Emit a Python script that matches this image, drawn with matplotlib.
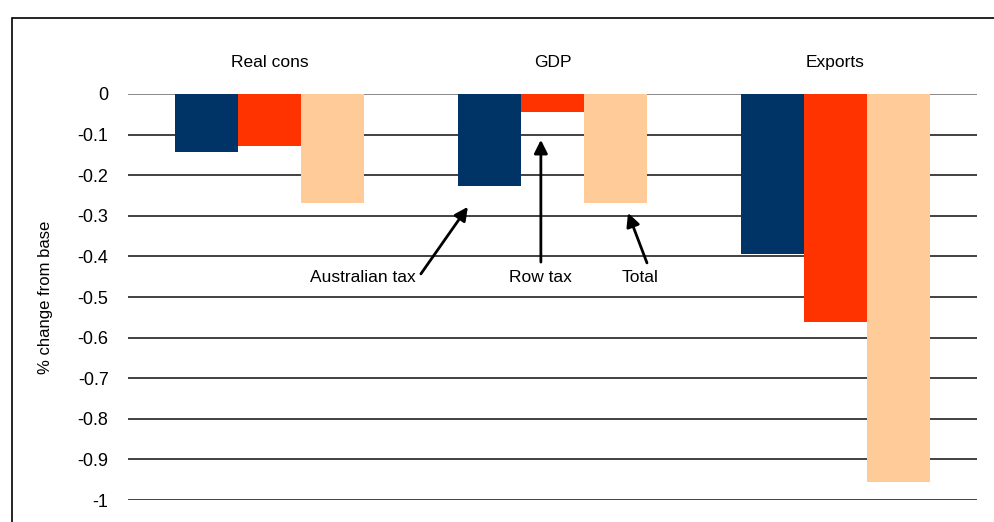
import numpy as np
import matplotlib
matplotlib.use('Agg')
import matplotlib.pyplot as plt
from matplotlib.patches import Rectangle

plt.rcParams['font.family'] = ['Liberation Sans Narrow', 'DejaVu Sans Condensed', 'Liberation Sans', 'DejaVu Sans']

categories = ['Real cons', 'GDP', 'Exports']
series = ['Australian tax', 'Row tax', 'Total']
aus_tax = [-0.143, -0.227, -0.394]
row_tax = [-0.128, -0.044, -0.561]
total = [-0.268, -0.268, -0.956]
colors = ['#003366', '#FF3300', '#FFCC99']
yticks = [0, -0.1, -0.2, -0.3, -0.4, -0.5, -0.6, -0.7, -0.8, -0.9, -1]
ytick_labels = ['0', '-0.1', '-0.2', '-0.3', '-0.4', '-0.5', '-0.6', '-0.7', '-0.8', '-0.9', '-1']

fig = plt.figure(figsize=(9.94, 5.22), dpi=100)
ax = fig.add_axes([0.1288, 0.042, 0.854, 0.778])

# outer frame
fig.patches.append(Rectangle((12/994, -0.05), 1.1, (522-18)/522 + 0.05,
                             transform=fig.transFigure, fill=False,
                             edgecolor='black', lw=1.2, zorder=0))

x = np.arange(len(categories))
w = 0.222
for i, (vals, c) in enumerate(zip([aus_tax, row_tax, total], colors)):
    ax.bar(x + (i - 1) * w, vals, w, color=c, zorder=3, label=series[i])

for t in yticks:
    ax.axhline(t, color='#808080' if t == 0 else '#333333', lw=1.3, zorder=1)

ax.set_xlim(-0.5, 2.5)
ax.set_ylim(-1.0, 0.0)
for s in ax.spines.values():
    s.set_visible(False)
ax.set_xticks([])
ax.set_yticks(yticks)
ax.set_yticklabels(ytick_labels, fontsize=13)
ax.tick_params(axis='y', length=0, pad=14)
ax.set_ylabel('% change from base', fontsize=12, labelpad=18)

for xi, cat in zip(x, categories):
    ax.text(xi, 0.078, cat, ha='center', va='center', fontsize=12.5, clip_on=False)

arrow = dict(arrowstyle='-|>', color='black', lw=2, mutation_scale=20, shrinkA=0, shrinkB=0)
ax.annotate('', xy=(0.701, -0.278), xytext=(0.535, -0.443), arrowprops=arrow)
ax.text(0.33, -0.451, 'Australian tax', ha='center', va='center', fontsize=12.5)
ax.annotate('', xy=(0.959, -0.113), xytext=(0.959, -0.414), arrowprops=arrow)
ax.text(0.956, -0.451, 'Row tax', ha='center', va='center', fontsize=12.5)
ax.annotate('', xy=(1.267, -0.293), xytext=(1.334, -0.416), arrowprops=arrow)
ax.text(1.309, -0.451, 'Total', ha='center', va='center', fontsize=12.5)

fig.savefig('out.png', dpi=100)
